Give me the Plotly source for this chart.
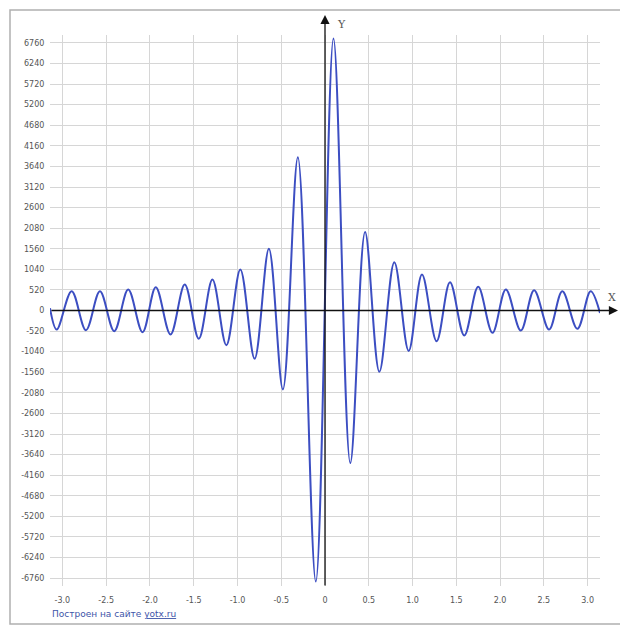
import plotly.graph_objects as go

# Curve: local extrema (x, y), plus the end points
curve_x = [-3.1416, -3.065, -2.894, -2.731, -2.571, -2.408, -2.248, -2.084, -1.933,
           -1.765, -1.602, -1.442, -1.286, -1.127, -0.967, -0.804, -0.641, -0.481,
           -0.310, -0.105, 0.097, 0.289, 0.458, 0.621, 0.792, 0.956, 1.108, 1.275,
           1.428, 1.591, 1.750, 1.913, 2.066, 2.237, 2.389, 2.560, 2.711, 2.883,
           3.035, 3.1416]
curve_y = [60, -480, 487, -497, 487, -522, 530, -547, 588,
           -606, 656, -714, 782, -875, 1035, -1219, 1557, -1994,
           3870, -6845, 6870, -3855, 1986, -1547, 1219, -1020, 909, -775,
           714, -631, 598, -563, 530, -505, 512, -480, 487, -462,
           487, -60]

x_ticks = [-3.0, -2.5, -2.0, -1.5, -1.0, -0.5, 0.0, 0.5, 1.0, 1.5, 2.0, 2.5, 3.0]
x_labels = ["-3.0", "-2.5", "-2.0", "-1.5", "-1.0", "-0.5", "0", "0.5", "1.0",
            "1.5", "2.0", "2.5", "3.0"]
y_ticks = [-6760, -6240, -5720, -5200, -4680, -4160, -3640, -3120, -2600, -2080,
           -1560, -1040, -520, 0, 520, 1040, 1560, 2080, 2600, 3120, 3640, 4160,
           4680, 5200, 5720, 6240, 6760]
y_labels = [str(v) for v in y_ticks]

X_RANGE = [-3.1416, 3.1416]
Y_RANGE = [-6960, 6960]

W, H = 620, 626
ML, MR, MT, MB = 50, 20, 35, 40
PW, PH = W - ML - MR, H - MT - MB


def px_x(px):
    return (px - ML) / PW


def px_y(py):
    return (H - MB - py) / PH


fig = go.Figure()
fig.add_trace(go.Scatter(
    x=curve_x, y=curve_y, mode="lines",
    line=dict(color="#3c4ec2", width=2, shape="spline", smoothing=1.0),
    hoverinfo="skip", showlegend=False,
))

grid = "#d6d6d6"
tickfont = dict(family="DejaVu Sans", size=8, color="#555555")

fig.update_layout(
    width=W, height=H,
    margin=dict(l=ML, r=MR, t=MT, b=MB, autoexpand=False),
    paper_bgcolor="white", plot_bgcolor="white",
    showlegend=False,
    xaxis=dict(range=X_RANGE, tickvals=x_ticks, ticktext=x_labels,
               showgrid=True, gridcolor=grid, gridwidth=1, automargin=False,
               zeroline=False, showline=False, ticks="outside", ticklen=6,
               tickcolor="rgba(0,0,0,0)", tickfont=tickfont, fixedrange=True),
    yaxis=dict(range=Y_RANGE, tickvals=y_ticks, ticktext=y_labels,
               showgrid=True, gridcolor=grid, gridwidth=1, automargin=False,
               zeroline=False, showline=False, ticks="outside", ticklen=3,
               tickcolor="rgba(0,0,0,0)", tickfont=tickfont, fixedrange=True),
)

annotations = [
    # Y axis arrow
    dict(x=0, xref="x", y=px_y(15), yref="paper", ax=0, ay=572,
         axref="pixel", ayref="pixel", text="", showarrow=True,
         arrowhead=2, arrowsize=1.4, arrowwidth=1.3, arrowcolor="#111111"),
    # X axis arrow
    dict(x=px_x(618), xref="paper", y=0, yref="y", ax=-568, ay=0,
         axref="pixel", ayref="pixel", text="", showarrow=True,
         arrowhead=2, arrowsize=1.4, arrowwidth=1.3, arrowcolor="#111111"),
    dict(x=px_x(341), xref="paper", y=px_y(16), yref="paper", text="Y",
         showarrow=False, font=dict(family="DejaVu Serif", size=11, color="#555555")),
    dict(x=px_x(606), xref="paper", y=px_y(297), yref="paper", text="X",
         xanchor="left", showarrow=False,
         font=dict(family="DejaVu Serif", size=11, color="#555555")),
    dict(x=0, xref="paper", y=px_y(614), yref="paper", xanchor="left", yanchor="middle",
         text="Построен на сайте <span style='text-decoration:underline'>yotx.ru</span>",
         showarrow=False,
         font=dict(family="DejaVu Sans", size=9, color="#3d54a8")),
]
fig.update_layout(annotations=annotations)

fig.add_shape(type="rect", xref="paper", yref="paper",
              x0=px_x(10), x1=px_x(623), y0=px_y(624), y1=px_y(10),
              line=dict(color="#b0b0b0", width=1.5), fillcolor="rgba(0,0,0,0)",
              layer="below")

fig.write_html("out.html", config={"displayModeBar": False},
               post_script="document.body.style.margin='0';document.body.style.overflow='hidden';")
